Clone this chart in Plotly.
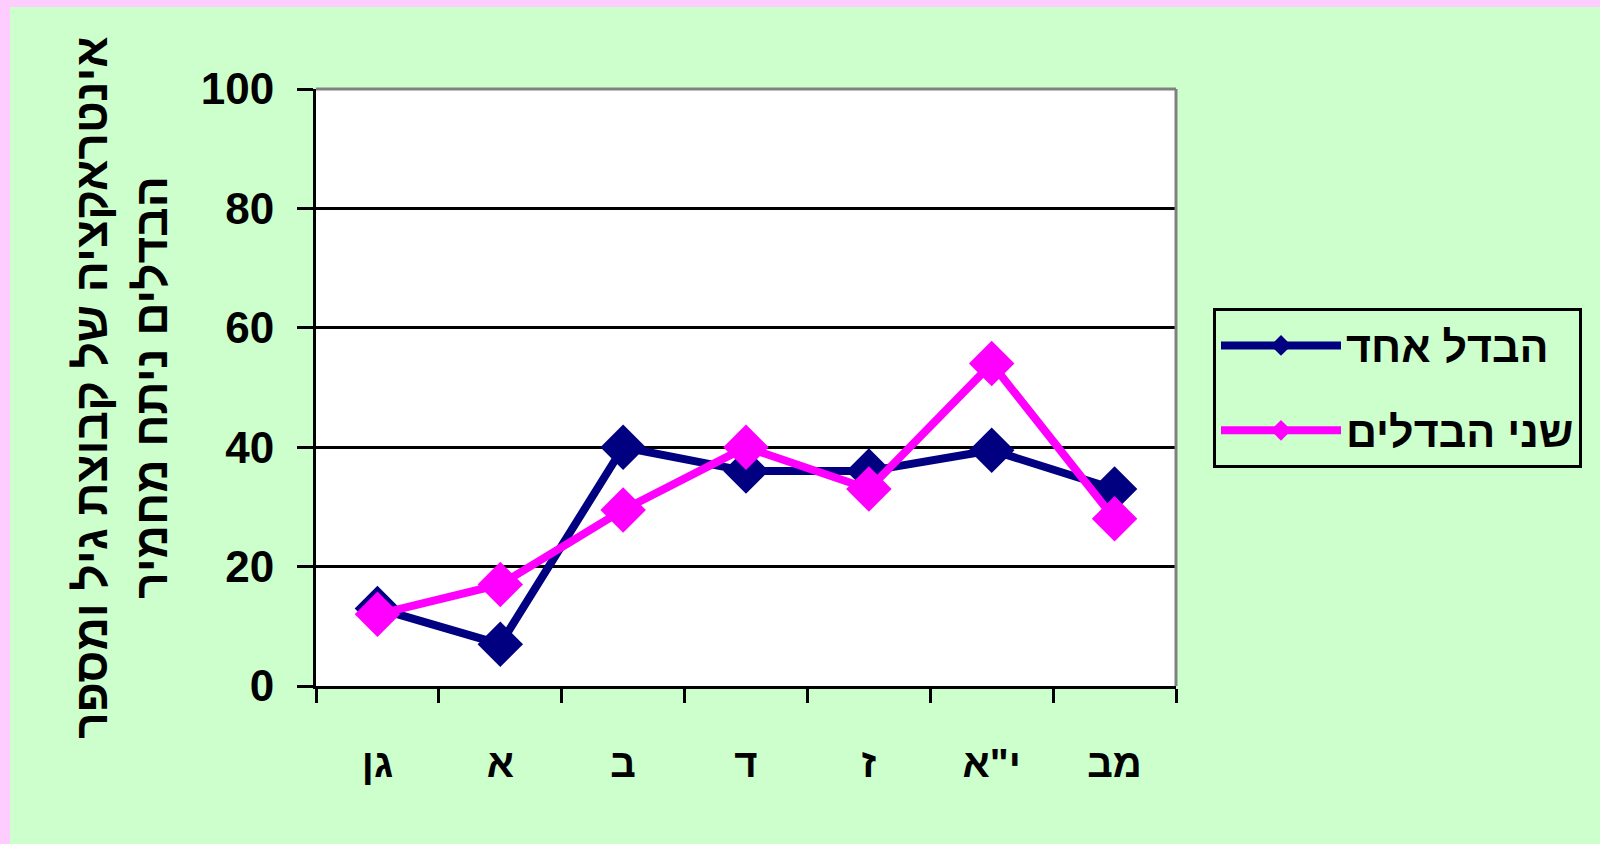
import plotly.graph_objects as go

categories = ["גן", "א", "ב", "ד", "ז", "י\"א", "מב"]
one_diff = [13, 7, 40, 36, 36, 39.5, 33]
two_diff = [12, 17, 29.5, 40, 33, 54, 28]
series_names = ["הבדל אחד", "שני הבדלים"]
y_ticks = [0, 20, 40, 60, 80, 100]
y_title = "אינטראקציה של קבוצת גיל ומספר<br>הבדלים ניתח מחמיר"

W, H = 1600, 844
L, R, T, B = 316, 424, 89, 158
pw, ph = W - L - R, H - T - B

def px_x(px):
    return (px - L) / pw

def px_y(py):
    return (H - B - py) / ph

GREEN = "#CCFFCC"
PINK = "#FFCCFF"
FONT = "Arial"

fig = go.Figure()
fig.add_trace(go.Scatter(
    x=categories, y=one_diff, name=series_names[0], mode="lines+markers",
    legendgroup="a",
    line=dict(color="#000080", width=8),
    marker=dict(symbol="diamond", size=35, color="#000080"),
))
fig.add_trace(go.Scatter(
    x=categories, y=two_diff, name=series_names[1], mode="lines+markers",
    legendgroup="b",
    line=dict(color="#FF00FF", width=8),
    marker=dict(symbol="diamond", size=35, color="#FF00FF"),
))

shapes = [
    dict(type="rect", xref="paper", yref="paper", x0=px_x(0), x1=px_x(W), y0=px_y(7), y1=px_y(0),
         fillcolor=PINK, line=dict(width=0), layer="below"),
    dict(type="rect", xref="paper", yref="paper", x0=px_x(0), x1=px_x(10), y0=px_y(H), y1=px_y(0),
         fillcolor=PINK, line=dict(width=0), layer="below"),
    dict(type="line", xref="paper", yref="paper", x0=0, x1=1, y0=1, y1=1,
         line=dict(color="#808080", width=3)),
    dict(type="line", xref="paper", yref="paper", x0=1, x1=1, y0=0, y1=1,
         line=dict(color="#808080", width=3)),
]

fig.update_layout(
    width=W, height=H,
    margin=dict(l=L, r=R, t=T, b=B, pad=0),
    paper_bgcolor=GREEN, plot_bgcolor="white",
    font=dict(family=FONT, color="black", size=40, weight="bold"),
    shapes=shapes,
    showlegend=True,
    legend=dict(
        x=px_x(1213), y=px_y(308), xanchor="left", yanchor="top",
        bgcolor=GREEN, bordercolor="black", borderwidth=3,
        font=dict(family=FONT, size=43, color="black", weight="bold"),
        itemwidth=120, tracegroupgap=26, itemsizing="trace",
    ),
)

fig.update_xaxes(
    type="category", range=[-0.5, 6.5],
    showline=True, linecolor="black", linewidth=3,
    ticks="outside", tickson="boundaries", ticklen=14, tickwidth=3, tickcolor="black",
    ticklabelstandoff=40, showgrid=False, zeroline=False,
    tickfont=dict(family=FONT, size=40, weight="bold"),
)
fig.update_yaxes(
    range=[0, 100], tickvals=y_ticks,
    showline=True, linecolor="black", linewidth=3,
    ticks="outside", ticklen=16, tickwidth=3, tickcolor="black",
    showgrid=True, gridcolor="black", gridwidth=2.5, zeroline=False,
    tickfont=dict(family=FONT, size=44, weight="bold"),
    ticklabelstandoff=14,
    title=dict(text=y_title, font=dict(family=FONT, size=46, weight="bold"), standoff=19),
)

fig.write_html("out.html", config={"displayModeBar": False},
               post_script="document.body.style.margin='0';")
